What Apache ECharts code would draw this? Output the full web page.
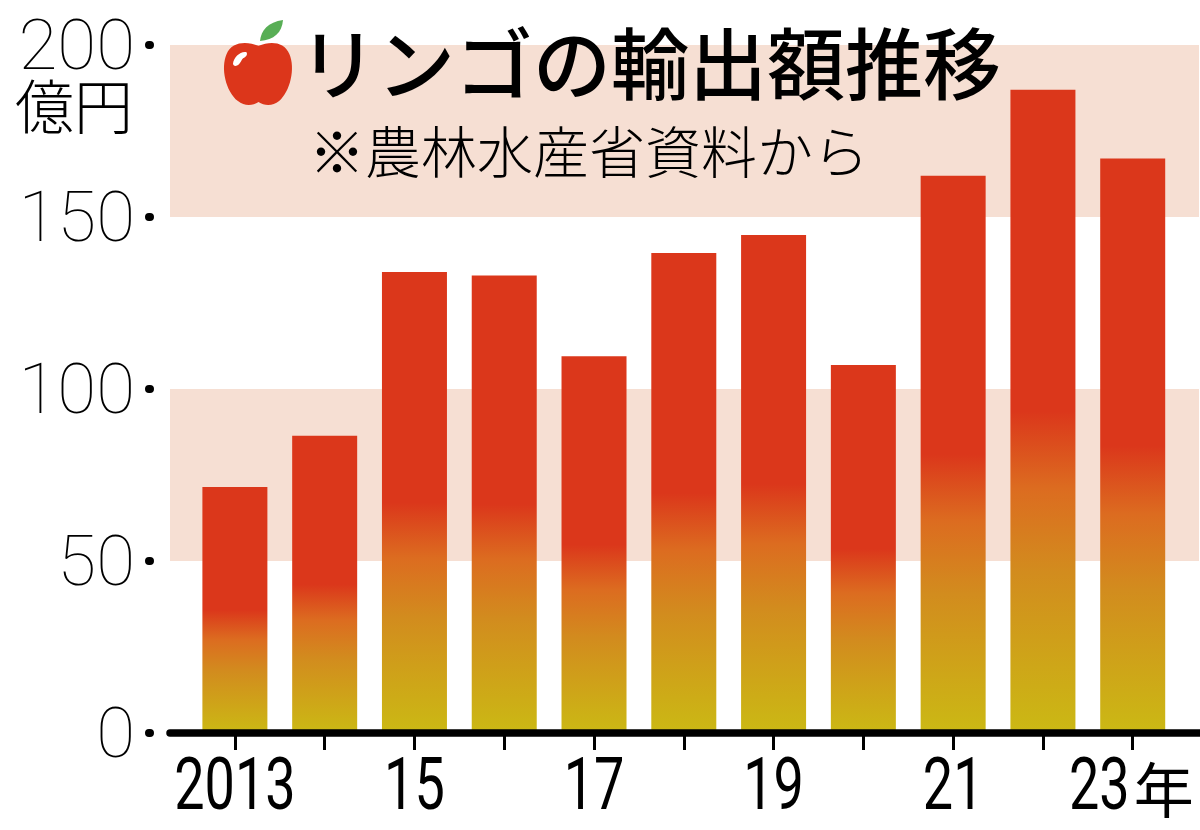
<!DOCTYPE html>
<html><head><meta charset="utf-8">
<style>html,body{margin:0;padding:0;background:#fff}#c{width:1200px;height:830px}</style>
<script src="https://cdn.jsdelivr.net/npm/echarts@6/dist/echarts.min.js"></script></head>
<body><div id="c"></div>
<script>
const years = ['2013','14','15','16','17','18','19','20','21','22','23'];
const values = [71.5,86.4,134,133,109.5,139.5,144.8,107,162,187,167];
const xLabels = ['2013','','15','','17','','19','','21','','23'];
const yearSuffix = '年';
const titleText = 'リンゴの輸出額推移';
const subText = '※農林水産省資料から';
const unitText = '億円';

const chart = echarts.init(document.getElementById('c'), null, {renderer:'canvas'});
const grad = new echarts.graphic.LinearGradient(0,1,0,0,[
  {offset:0,color:'#cbb914'},
  {offset:0.25,color:'#d28c1e'},
  {offset:0.38,color:'#dc6c20'},
  {offset:0.5,color:'#db371b'},
  {offset:1,color:'#db371b'}
]);
const CJK = '"Noto Sans CJK JP"';
const appleParts = [
  {d:'M258 45 C246 40 232 41 227 53 C221 67 226 90 238 100 C244 105 252 105 258 101 C264 105 272 105 278 100 C289 90 294 67 288 53 C283 41 270 40 258 45 Z',fill:'#dc361b',r:[224,43,68,62]},
  {d:'M260 40 C261 30 268 22 283 20 C282 32 274 39 260 40 Z',fill:'#58ae55',r:[260,20,23,21]},
  {d:'M233 63 C234 57 240 51 246 52 C248 54 246 57 243 58 C241 60 240 64 237 65 C235 66 233 65 233 63 Z',fill:'#fff',r:[233,52,14,14]}
];
const numFont = {fontFamily:'Roboto',fontSize:72,fontWeight:400,fill:'#000'};
chart.setOption({
  animation:false,
  backgroundColor:'#fff',
  grid:[
    {left:170,top:45,width:1029,height:688},
    {left:190,top:45,width:987.6,height:688}
  ],
  xAxis:[
    {gridIndex:0,type:'category',data:years,z:5,
     axisLine:{show:true,lineStyle:{color:'#000',width:7.5}},
     axisTick:{show:false},axisLabel:{show:false}},
    {gridIndex:1,type:'category',data:years,
     axisLine:{show:false},
     axisTick:{show:true,alignWithLabel:true,interval:0,length:17,lineStyle:{color:'#000',width:3}},
     axisLabel:{show:false}}
  ],
  yAxis:[
    {gridIndex:0,type:'value',min:0,max:200,interval:50,offset:20,
     axisLine:{show:false},
     axisTick:{show:true,length:1,lineStyle:{color:'#000',width:8,cap:'round'}},
     axisLabel:{show:true,margin:15,color:'#000',
       formatter:'{n|{value}}',
       rich:{n:{color:'#000',fontFamily:'Roboto',fontWeight:100,fontSize:71,padding:[12,0,0,0]}}},
     splitLine:{show:false},
     splitArea:{show:true,areaStyle:{color:['rgba(255,255,255,0)','#f6dfd3']}}},
    {gridIndex:1,type:'value',min:0,max:200,interval:50,show:false,splitLine:{show:false}}
  ],
  series:[{
    type:'bar',xAxisIndex:1,yAxisIndex:1,data:values,barWidth:65,z:3,
    itemStyle:{color:grad},silent:true
  },{
    type:'custom',xAxisIndex:1,yAxisIndex:1,silent:true,clip:false,z:6,
    data:xLabels.map((t,i)=>[i,0,t]),
    renderItem:(params,api)=>{
      const t = xLabels[api.value(0)];
      if(!t) return null;
      const p = api.coord([api.value(0),0]);
      const last = api.value(0)===xLabels.length-1;
      const children = [{type:'text',x:last?p[0]-3:p[0],y:p[1]+58,scaleX:0.75,
        style:{text:t,...numFont,textAlign:last?'right':'center',verticalAlign:'middle'}}];
      if(last) children.push({type:'text',x:p[0]+1,y:p[1]+57,
        style:{text:yearSuffix,fontFamily:CJK,fontSize:60,fill:'#000',textAlign:'left',verticalAlign:'middle'}});
      return {type:'group',children};
    }
  },{
    type:'custom',xAxisIndex:0,yAxisIndex:0,data:[[0,0]],z:9,silent:true,clip:false,
    renderItem:()=>({type:'group',children:appleParts.map(p=>({
      type:'path',
      shape:{pathData:p.d,layout:'cover',x:p.r[0],y:p.r[1],width:p.r[2],height:p.r[3]},
      style:{fill:p.fill}
    }))})
  }],
  title:[
    {text:titleText,left:294,top:20,textStyle:{fontFamily:CJK,fontWeight:500,fontSize:78,color:'#000'},z:10},
    {text:subText,left:304,top:119,textStyle:{fontFamily:CJK,fontWeight:300,fontSize:56,color:'#000'},z:10}
  ],
  graphic:[
    {type:'text',left:15,top:77,z:10,style:{text:unitText,fontFamily:CJK,fontWeight:300,fontSize:59,fill:'#000'}}
  ]
});
</script></body></html>
